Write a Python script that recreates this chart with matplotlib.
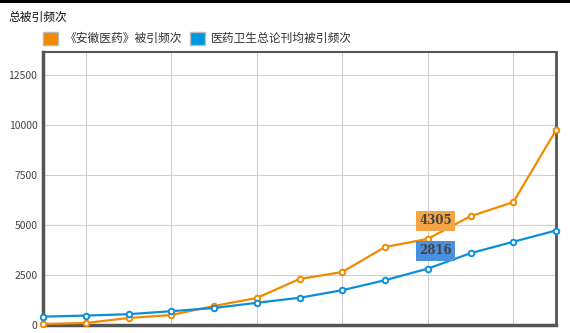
import matplotlib
matplotlib.use('Agg')
import matplotlib.pyplot as plt
from matplotlib.patches import Rectangle

plt.rcParams['font.family'] = ['Noto Sans CJK SC', 'DejaVu Sans']

# data
idx = list(range(13))
anhui = [50, 100, 350, 500, 950, 1350, 2300, 2650, 3900, 4305, 5440, 6140, 9740]
avg = [420, 470, 540, 690, 850, 1110, 1360, 1740, 2240, 2816, 3590, 4160, 4725]
yticks = [0, 2500, 5000, 7500, 10000, 12500]
names = ['《安徽医药》被引频次', '医药卫生总论刊均被引频次']

c_or = '#f28a00'
c_bl = '#0d8fd8'

fig = plt.figure(figsize=(5.7, 3.33), dpi=100)
ax = fig.add_axes([43/570, 1-325/333, (556-43)/570, (325-52)/333])

for vals, col in [(anhui, c_or), (avg, c_bl)]:
    ax.plot(idx, vals, color=col, lw=1.6, marker='o', ms=4, mfc='white',
            mec=col, mew=1.4, clip_on=False, zorder=3)

ax.set_xlim(0, 12)
ax.set_ylim(0, 13650)
ax.set_yticks(yticks)
ax.set_yticklabels([str(v) for v in yticks], fontsize=7.5, color='#444')
ax.set_xticks(idx[1::2])
ax.set_xticklabels([])
ax.tick_params(length=0, pad=4)
ax.grid(True, color='#d0d0d0', lw=0.8)
ax.set_axisbelow(True)
for side, w in [('left', 2.5), ('bottom', 2.5), ('top', 1.5), ('right', 2)]:
    ax.spines[side].set_color('#555555')
    ax.spines[side].set_linewidth(w)

# value labels at point 9
ax.text(9.18, anhui[9] + 900, str(anhui[9]), ha='center', va='center', fontsize=8.5,
        fontweight='bold', color='#444', family='DejaVu Serif',
        bbox=dict(boxstyle='square,pad=0.3', fc='#f5a546', ec='none'), zorder=4)
ax.text(9.18, avg[9] + 900, str(avg[9]), ha='center', va='center', fontsize=8.5,
        fontweight='bold', color='#444', family='DejaVu Serif',
        bbox=dict(boxstyle='square,pad=0.3', fc='#4a8fe0', ec='none'), zorder=4)

# title and legend
fig.text(8/570, 1-17/333, '总被引频次', fontsize=8.5, color='#111', va='center')
fig.patches.append(Rectangle((43/570, 1-45/333), 15/570, 13/333, transform=fig.transFigure,
                             fc=c_or, ec='#bbbbbb', lw=1))
fig.text(65/570, 1-38/333, names[0], fontsize=8.5, color='#333', va='center')
fig.patches.append(Rectangle((190/570, 1-45/333), 15/570, 13/333, transform=fig.transFigure,
                             fc='#0096de', ec='#bbbbbb', lw=1))
fig.text(211/570, 1-38/333, names[1], fontsize=8.5, color='#333', va='center')

# black strip at top
fig.patches.append(Rectangle((0, 1-3/333), 1, 3/333, transform=fig.transFigure,
                             fc='black', ec='none'))

fig.savefig('out.png', dpi=100)
